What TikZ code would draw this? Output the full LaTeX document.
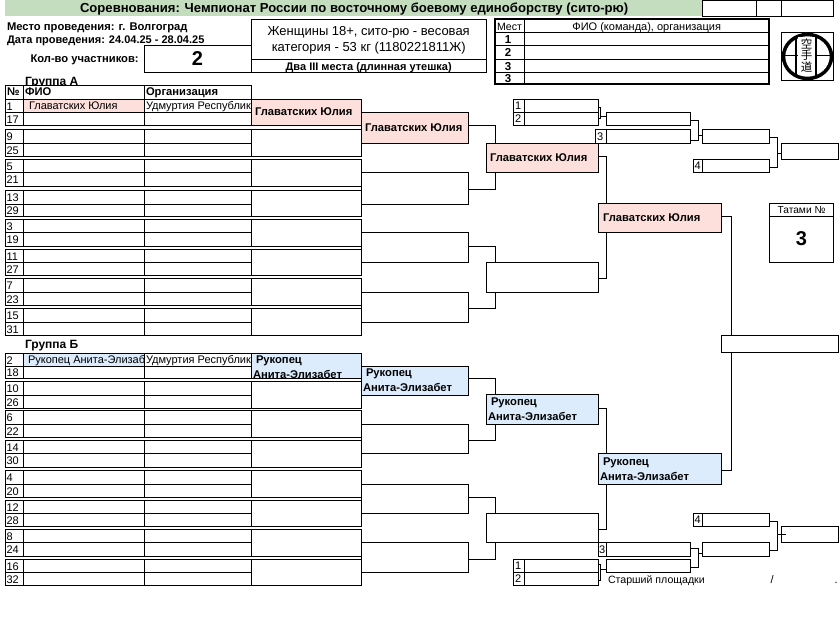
\documentclass[tikz,border=0pt]{standalone}
\usepackage{fontspec}
\setmainfont{Liberation Sans}
\newfontfamily\cjkfont{Noto Sans CJK JP}
\definecolor{headgreen}{HTML}{C3DDBE}
\definecolor{winpink}{HTML}{FDE0DC}
\definecolor{winblue}{HTML}{DCECFC}
\newcommand{\fs}[1]{\fontsize{#1pt}{#1pt}\selectfont}
% \bx[style]{name}{x1}{y1}{x2}{y2}
\newcommand{\bx}[6][]{%
  \pgfmathsetmacro{\bxw}{#5-#3}\pgfmathsetmacro{\bxh}{#6-#4}%
  \node[cellbox,minimum width=\bxw pt,minimum height=\bxh pt,#1] (#2) at ({(#3+#5)/2},{(#4+#6)/2}) {};}
% \tx[style]{name}{x}{y}{text}  -- y is the centre of the capitals
\newcommand{\tx}[5][]{\node[lab,#1] (#2) at ({#3},{#4+1}) {\rule[-.19em]{0pt}{.906em}#5};}
% winner connector: from box a at height y, to box b's top or bottom edge at x
\newcommand{\cn}[5]{\draw[conn] (#1.east |- 0,#2) -| (#4,0 |- #3.#5);}
\begin{document}
\begin{tikzpicture}[x=1pt,y=-1pt,
  cellbox/.style={draw=black,line width=1pt,fill=white,inner sep=0pt,outer sep=0pt},
  winP/.style={fill=winpink},
  winB/.style={fill=winblue},
  lab/.style={anchor=west,inner sep=0pt,outer sep=0pt,font=\fs{11}},
  blab/.style={lab,font=\bfseries\fs{11.2}},
  clab/.style={lab,anchor=center},
  conn/.style={draw=black,line width=1pt}]
\useasboundingbox (0,0) rectangle (840,631);
% title bar
\fill[headgreen] (5,0) rectangle (702,16.5);
\tx[blab,font=\bfseries\fs{13.1}]{title}{80}{8.5}{Соревнования: Чемпионат России по восточному боевому единоборству (сито-рю)}
\bx{ta}{702.5}{0.5}{756.5}{16.5}
\bx{tb}{756.5}{0.5}{781.5}{16.5}
\bx{tc}{781.5}{0.5}{833.5}{16.5}
% info
\tx[blab]{place}{7}{26.5}{Место проведения: г. Волгоград}
\tx[blab,font=\bfseries\fs{11}]{date}{7}{39.5}{Дата проведения: 24.04.25 - 28.04.25}
\tx[blab]{cnt}{30.5}{59}{Кол-во участников:}
\bx{cntbox}{144.5}{45.5}{251.5}{72.5}
\tx[clab,font=\bfseries\fs{20}]{cntval}{197.5}{59}{2}
\bx{catbox}{251.5}{19.5}{486.5}{59.5}
\bx{catsub}{251.5}{59.5}{486.5}{72.5}
\tx[clab,font=\fs{13}]{cat1}{368.7}{31.5}{Женщины 18+, сито-рю - весовая}
\tx[clab,font=\fs{13}]{cat2}{368.7}{47}{категория - 53 кг (1180221811Ж)}
\tx[clab,font=\bfseries\fs{11}]{cat3}{368.7}{66.5}{Два III места (длинная утешка)}
% places table
\foreach \pi/\pa/\pb/\pt in {0/19.5/32.5/,1/32.5/45.5/1,2/45.5/59.5/2,3/59.5/72.5/3,4/72.5/84.5/3}{
  \bx{pn\pi}{495}{\pa}{524.5}{\pb}
  \bx{pf\pi}{524.5}{\pa}{769}{\pb}
  \tx[clab,font=\bfseries\fs{11.5}]{pv\pi}{508}{(\pa+\pb)/2}{\pt}
}
\draw[line width=2pt] (pn0.north west) rectangle (pf4.south east);
\tx[clab,font=\fs{10.6}]{pm}{509.5}{26.5}{Мест}
\tx[clab]{ph}{646.7}{27}{ФИО (команда), организация}
% logo
\bx{logo}{781.5}{32.5}{833.5}{80.5}
\draw[line width=3.5pt] (807.5,56.5) ellipse (24 and 22);
\draw[line width=1.6pt] (784,55.5) -- (831,55.5);
\draw[line width=2pt] (796,36) -- (796,76) (816,36) -- (816,76);
\fill[white] (798,37) rectangle (814.5,75.5);
\node[inner sep=0pt,font=\cjkfont\fs{11.5}] (kanji1) at (806.5,43.5) {空};
\node[inner sep=0pt,font=\cjkfont\fs{11.5}] (kanji2) at (806.5,55.5) {手};
\node[inner sep=0pt,font=\cjkfont\fs{11.5}] (kanji3) at (806.5,67.5) {道};
% group A
\tx[blab,font=\bfseries\fs{12}]{ga}{25}{81}{Группа А}
\bx{hn}{5.5}{85.5}{23.5}{99.5}
\bx{hf}{23.5}{85.5}{144.5}{99.5}
\bx{ho}{144.5}{85.5}{251.5}{99.5}
\tx[blab]{hnt}{7}{92}{№}
\tx[blab]{hft}{25}{92}{ФИО}
\tx[blab]{hot}{146}{92}{Организация}
\tx[blab,font=\bfseries\fs{12}]{gb}{25}{344}{Группа Б}
% first round: number / name / organisation rows and pair boxes
\foreach \nn/\mm/\ya/\yb/\yc in {1/17/99.5/112.5/125.5,9/25/129.5/143.5/156.5,5/21/159.5/172.5/186.5,13/29/190.5/204.5/216.5,3/19/219.5/232.5/246.5,11/27/249.5/262.5/275.5,7/23/278.5/292.5/305.5,15/31/308.5/322.5/335.5,2/18/353.5/366.5/378.5,10/26/381.5/395.5/408.5,6/22/410.5/424.5/437.5,14/30/440.5/453.5/467.5,4/20/470.5/484.5/497.5,12/28/500.5/513.5/526.5,8/24/529.5/542.5/556.5,16/32/559.5/572.5/585.5}{
  \bx{n\nn}{5.5}{\ya}{23.5}{\yb}
  \bx{f\nn}{23.5}{\ya}{144.5}{\yb}
  \bx{o\nn}{144.5}{\ya}{251.5}{\yb}
  \bx{n\mm}{5.5}{\yb}{23.5}{\yc}
  \bx{f\mm}{23.5}{\yb}{144.5}{\yc}
  \bx{o\mm}{144.5}{\yb}{251.5}{\yc}
  \tx{nt\nn}{6.5}{(\ya+\yb)/2+0.5}{\nn}
  \tx{nt\mm}{6.5}{(\yb+\yc)/2+0.5}{\mm}
  \bx{ra\nn}{251.5}{\ya}{361.5}{\yc}
}
\bx[winP]{f1}{23.5}{99.5}{144.5}{112.5}
\bx[winB]{f2}{23.5}{353.5}{144.5}{366.5}
\bx[winP]{ra1}{251.5}{99.5}{361.5}{125.5}
\bx[winB]{ra2}{251.5}{353.5}{361.5}{378.5}
\begin{scope}
\clip (24,99) rectangle (144,113);
\tx{pn}{29}{106}{Главатских Юлия}
\end{scope}
\begin{scope}
\clip (145,99) rectangle (251,113);
\tx{po1}{146}{106}{Удмуртия Республика}
\end{scope}
\begin{scope}
\clip (24,354) rectangle (144,366);
\tx{pr}{28}{360}{Рукопец Анита-Элизабет}
\end{scope}
\begin{scope}
\clip (145,354) rectangle (251,366);
\tx{po2}{146}{360}{Удмуртия Республика}
\end{scope}
% round 2
\bx[winP]{rb1}{361.5}{112.5}{468.5}{143.5}
\bx{rb2}{361.5}{172.5}{468.5}{204.5}
\bx{rb3}{361.5}{232.5}{468.5}{262.5}
\bx{rb4}{361.5}{292.5}{468.5}{322.5}
\bx[winB]{rb5}{361.5}{366.5}{468.5}{395.5}
\bx{rb6}{361.5}{424.5}{468.5}{453.5}
\bx{rb7}{361.5}{484.5}{468.5}{513.5}
\bx{rb8}{361.5}{542.5}{468.5}{572.5}
% round 3
\bx[winP]{rc1}{486.5}{143.5}{598.5}{172.5}
\bx{rc2}{486.5}{262.5}{598.5}{292.5}
\bx[winB]{rc3}{486.5}{394.5}{598.5}{424.5}
\bx{rc4}{486.5}{513.5}{598.5}{542.5}
\cn{rb1}{125.5}{rc1}{495.5}{north}
\cn{rb2}{189.5}{rc1}{495.5}{south}
\cn{rb3}{246.5}{rc2}{495.5}{north}
\cn{rb4}{308.5}{rc2}{495.5}{south}
\cn{rb5}{378.5}{rc3}{495.5}{north}
\cn{rb6}{440.5}{rc3}{495.5}{south}
\cn{rb7}{497.5}{rc4}{495.5}{north}
\cn{rb8}{559.5}{rc4}{495.5}{south}
% round 4
\bx[winP]{rd1}{598.5}{203.5}{721.5}{232.5}
\bx[winB]{rd2}{598.5}{453.5}{721.5}{484.5}
\cn{rc1}{156.5}{rd1}{606.5}{north}
\cn{rc2}{278.5}{rd1}{606.5}{south}
\cn{rc3}{408.5}{rd2}{606.5}{north}
\cn{rc4}{529.5}{rd2}{606.5}{south}
% final
\bx{fin}{721.5}{335.5}{838.5}{352.5}
\cn{rd1}{216.5}{fin}{731.5}{north}
\cn{rd2}{470.5}{fin}{731.5}{south}
% tatami
\bx{tath}{769.5}{203.5}{833.5}{216.5}
\bx{tatb}{769.5}{216.5}{833.5}{262.5}
\tx[clab,font=\fs{10.2}]{tatt}{801.5}{210}{Татами №}
\tx[clab,font=\bfseries\fs{20}]{tatv}{801.5}{239.5}{3}
% winner labels
\tx[blab]{w1}{255}{112}{Главатских Юлия}
\tx[blab]{w2}{365}{128}{Главатских Юлия}
\tx[blab]{w3}{490}{158}{Главатских Юлия}
\tx[blab]{w4}{603}{218}{Главатских Юлия}
\tx[blab]{b1a}{256}{359.5}{Рукопец}
\tx[blab]{b1b}{253}{374}{Анита-Элизабет}
\tx[blab]{b2a}{366}{373}{Рукопец}
\tx[blab]{b2b}{363}{387}{Анита-Элизабет}
\tx[blab]{b3a}{491}{402}{Рукопец}
\tx[blab]{b3b}{488}{416}{Анита-Элизабет}
\tx[blab]{b4a}{603}{462}{Рукопец}
\tx[blab]{b4b}{600}{476}{Анита-Элизабет}
% repechage, top
\bx{ua1n}{513.5}{99.5}{524.5}{112.5}
\bx{ua1}{524.5}{99.5}{598.5}{112.5}
\bx{ua2n}{513.5}{112.5}{524.5}{125.5}
\bx{ua2}{524.5}{112.5}{598.5}{125.5}
\tx{ua1t}{515}{106}{1}
\tx{ua2t}{515}{119}{2}
\bx{ub1}{606.5}{112.5}{690.5}{125.5}
\bx{ub2n}{595.5}{129.5}{606.5}{143.5}
\bx{ub2}{606.5}{129.5}{690.5}{143.5}
\tx{ub2t}{597}{136.5}{3}
\bx{uc1}{702.5}{129.5}{769.5}{143.5}
\bx{uc2n}{693.5}{159.5}{702.5}{172.5}
\bx{uc2}{702.5}{159.5}{769.5}{172.5}
\tx{uc2t}{694.5}{166}{4}
\bx{ud}{781.5}{143.5}{838.5}{159.5}
\draw[conn] (ua1.east |- 0,107.5) -- (600.5,107.5) -- (600.5,118.5) -- (ua2.east |- 0,118.5);
\draw[conn] (600.5,116.5) -- (ub1.west |- 0,116.5);
\draw[conn] (ub1.east |- 0,120.5) -| (698.5,140.5) -- (ub2.east |- 0,140.5);
\draw[conn] (698.5,135.5) -- (uc1.west |- 0,135.5);
\draw[conn] (uc1.east |- 0,137.5) -| (777.5,167.5) -- (uc2.east |- 0,167.5);
\draw[conn] (777.5,153.5) -- (ud.west |- 0,153.5);
% repechage, bottom
\bx{la1n}{513.5}{559.5}{524.5}{572.5}
\bx{la1}{524.5}{559.5}{598.5}{572.5}
\bx{la2n}{513.5}{572.5}{524.5}{585.5}
\bx{la2}{524.5}{572.5}{598.5}{585.5}
\tx{la1t}{515}{566}{1}
\tx{la2t}{515}{579}{2}
\bx{lb1}{606.5}{559.5}{690.5}{572.5}
\bx{lb2n}{598.5}{542.5}{606.5}{556.5}
\bx{lb2}{606.5}{542.5}{690.5}{556.5}
\tx{lb2t}{599}{549.5}{3}
\bx{lc1}{702.5}{542.5}{769.5}{556.5}
\bx{lc2n}{693.5}{513.5}{702.5}{526.5}
\bx{lc2}{702.5}{513.5}{769.5}{526.5}
\tx{lc2t}{694.5}{520}{4}
\bx{ld}{781.5}{526.5}{838.5}{542.5}
\draw[conn] (la1.east |- 0,564.5) -- (600.5,564.5) -- (600.5,580.5) -- (la2.east |- 0,580.5);
\draw[conn] (600.5,569.5) -- (lb1.west |- 0,569.5);
\draw[conn] (lb2.east |- 0,548.5) -| (698.5,567.5) -- (lb1.east |- 0,567.5);
\draw[conn] (698.5,553.5) -- (lc1.west |- 0,553.5);
\draw[conn] (lc2.east |- 0,521.5) -| (777.5,550.5) -- (lc1.east |- 0,550.5);
\draw[conn] (777.5,534.5) -- (785.5,534.5);
% footer
\tx[font=\fs{10.6}]{sen}{608}{580}{Старший площадки}
\tx{sl}{770.5}{580}{/}
\tx{sd}{834.5}{580}{.}
\end{tikzpicture}
\end{document}
